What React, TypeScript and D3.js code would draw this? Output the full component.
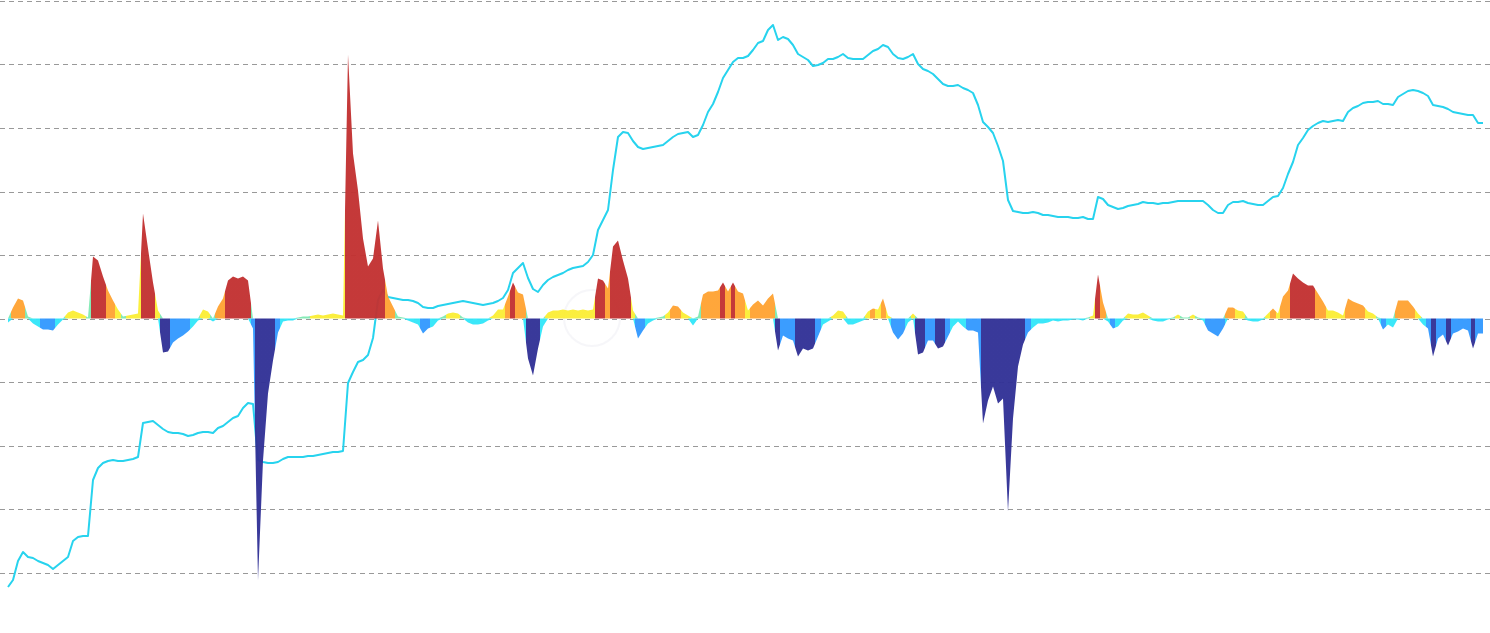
import React from 'react';
import * as d3 from 'd3';

// Oscillator (area) values, one per trading day
const areaValues: number[] = [
  -4, 11, 20, 18, 2, -5, -8, -11, -11, -12,
  -6, -1, 6, 8, 6, 4, 1, 62, 58, 42,
  28, 18, 9, 2, 3, 4, 5, 105, 70, 36,
  8, -34, -33, -24, -20, -17, -13, -8, -2, 9,
  7, -3, 12, 20, 38, 42, 40, 42, 38, -10,
  -262, -142, -75, -42, -14, -3, -2, -2, 1, 2,
  2, 3, 4, 3, 4, 5, 4, 3, 264, 165,
  128, 80, 52, 60, 98, 50, 22, 12, 2, 1,
  -2, -4, -6, -15, -10, -8, -2, 2, 5, 6,
  5, 1, -4, -6, -6, -5, -2, 3, 9, 9,
  22, 36, 26, 24, -40, -57, -30, -8, 6, 8,
  8, 9, 8, 9, 8, 9, 8, 9, 40, 38,
  30, 72, 78, 58, 40, 8, -20, -12, -5, -2,
  1, 2, 6, 13, 12, 6, 3, -7, 2, 24,
  27, 27, 28, 36, 27, 36, 27, 25, 8, 14,
  18, 13, 20, 25, -32, -17, -20, -22, -38, -30,
  -32, -30, -18, -6, -3, 3, 8, 7, -6, -6,
  -4, -2, 7, 10, 9, 20, 3, -14, -21, -15,
  -4, 5, -36, -34, -22, -22, -30, -28, -18, -8,
  -3, -8, -12, -12, -14, -105, -82, -68, -85, -80,
  -193, -100, -48, -26, -14, -9, -5, -5, -4, -2,
  -3, -2, -2, -1, -1, -2, 1, 3, 44, 16,
  -3, -10, -8, -2, 5, 4, 4, 6, 3, -2,
  -3, -3, -1, 1, 4, 1, 1, 4, 1, -2,
  -12, -15, -18, -10, 11, 11, 8, 7, -2, -3,
  -3, -1, 5, 10, 5, 22, 28, 45, 40, 36,
  33, 33, 25, 17, 8, 8, 6, 3, 20, 17,
  15, 13, 7, 5, 1, -11, -6, -9, 18, 18,
  18, 12, 5, -6, -10, -38, -20, -16, -27, -15,
  -13, -10, -12, -30, -15, -15,
];

// Price line values, one per trading day
const lineValues: number[] = [
  49, 56, 75, 84, 79, 78, 75, 73, 71, 67,
  71, 75, 79, 95, 99, 100, 100, 156, 168, 173,
  175, 176, 175, 175, 176, 177, 179, 213, 214, 215,
  211, 207, 204, 203, 203, 202, 200, 201, 203, 204,
  204, 203, 208, 210, 214, 218, 220, 228, 233, 232,
  176, 174, 173, 173, 174, 177, 179, 179, 179, 179,
  180, 180, 181, 182, 183, 184, 184, 185, 253, 264,
  274, 276, 281, 298, 336, 346, 339, 338, 337, 336,
  336, 335, 333, 329, 328, 328, 330, 331, 332, 333,
  334, 335, 334, 333, 332, 331, 332, 333, 335, 338,
  346, 363, 368, 373, 358, 347, 344, 351, 356, 359,
  361, 363, 366, 368, 369, 370, 374, 381, 406, 416,
  426, 466, 499, 504, 503, 495, 489, 487, 488, 489,
  490, 491, 495, 499, 502, 503, 504, 499, 501, 511,
  524, 532, 544, 558, 566, 574, 578, 578, 580, 586,
  593, 595, 606, 611, 596, 599, 597, 591, 582, 579,
  576, 570, 571, 573, 577, 577, 579, 582, 578, 577,
  577, 577, 581, 585, 587, 591, 589, 582, 578, 577,
  579, 582, 572, 567, 565, 562, 557, 552, 550, 550,
  551, 548, 546, 543, 531, 514, 509, 503, 490, 475,
  436, 425, 424, 423, 423, 424, 423, 421, 421, 420,
  419, 419, 419, 418, 418, 419, 417, 417, 439, 437,
  431, 429, 427, 428, 430, 431, 432, 434, 433, 433,
  432, 433, 433, 434, 435, 435, 435, 435, 435, 435,
  431, 426, 423, 423, 431, 434, 434, 435, 433, 432,
  431, 431, 435, 439, 440, 448, 462, 474, 491, 498,
  506, 510, 513, 515, 514, 515, 516, 515, 524, 528,
  530, 533, 534, 534, 535, 532, 532, 531, 539, 542,
  545, 546, 545, 543, 540, 531, 530, 529, 527, 524,
  523, 522, 521, 521, 513, 513,
];

const gridTicks = [-317.5, -254, -190.5, -127, -63.5, 0, 63.5, 127, 190.5, 254, 317.5];

const posColor = (v: number) => (v > 30 ? '#c23131' : v > 9.5 ? '#ffa333' : v > 2 ? '#fbee36' : '#7fe9b2');
const negColor = (v: number) => (v < -25 ? '#313196' : v < -9.5 ? '#3399ff' : '#33e6f9');

export default function App() {
  const W = 1490;
  const H = 633;
  const n = areaValues.length;
  const x = d3.scaleLinear().domain([0, n - 1]).range([8, 1483]);
  const yA = d3.scaleLinear().domain([-317.5, 317.5]).range([636, 1]);
  const yL = d3.scaleLinear().domain([0, 635]).range([636, 1]);

  const x0 = x(0);
  const x1 = x(n - 1);
  const half = (x(1) - x(0)) / 2;

  const buildStops = (colorFn: (v: number) => string) => {
    const stops: { off: number; c: string }[] = [];
    areaValues.forEach((v, i) => {
      const a = Math.max(x0, x(i) - half);
      const b = Math.min(x1, x(i) + half);
      const c = colorFn(v);
      stops.push({ off: (a - x0) / (x1 - x0), c });
      stops.push({ off: (b - x0) / (x1 - x0), c });
    });
    return stops;
  };
  const posStops = buildStops((v) => (v > 0 ? posColor(v) : '#7fe9b2'));
  const negStops = buildStops((v) => (v < 0 ? negColor(v) : '#33e6f9'));

  const posArea = d3
    .area<number>()
    .x((_, i) => x(i))
    .y0(yA(0))
    .y1((d) => yA(Math.max(0, d)));
  const negArea = d3
    .area<number>()
    .x((_, i) => x(i))
    .y0(yA(0))
    .y1((d) => yA(Math.min(0, d)));
  const line = d3
    .line<number>()
    .x((_, i) => x(i))
    .y((d) => yL(d));

  return (
    <div style={{ position: 'absolute', left: 0, top: 0, width: W, height: H, background: '#fff' }}>
      <svg width={W} height={H} style={{ display: 'block' }}>
        <defs>
          <linearGradient id="posGrad" gradientUnits="userSpaceOnUse" x1={x0} x2={x1} y1={0} y2={0}>
            {posStops.map((s, i) => (
              <stop key={i} offset={s.off} stopColor={s.c} />
            ))}
          </linearGradient>
          <linearGradient id="negGrad" gradientUnits="userSpaceOnUse" x1={x0} x2={x1} y1={0} y2={0}>
            {negStops.map((s, i) => (
              <stop key={i} offset={s.off} stopColor={s.c} />
            ))}
          </linearGradient>
        </defs>
        {gridTicks.map((t) => (
          <line
            key={t}
            x1={0}
            x2={W}
            y1={Math.round(yA(t)) + 0.5}
            y2={Math.round(yA(t)) + 0.5}
            stroke="#999"
            strokeWidth={1}
            strokeDasharray="5,4"
          />
        ))}
        <circle cx={592} cy={318} r={28} fill="none" stroke="#eeeef4" strokeWidth={2} opacity={0.5} />
        <path d={line(lineValues) || ''} fill="none" stroke="#27d3ee" strokeWidth={2} strokeLinejoin="round" />
        <path d={posArea(areaValues) || ''} fill="url(#posGrad)" fillOpacity={0.96} />
        <path d={negArea(areaValues) || ''} fill="url(#negGrad)" fillOpacity={0.96} />
      </svg>
    </div>
  );
}
